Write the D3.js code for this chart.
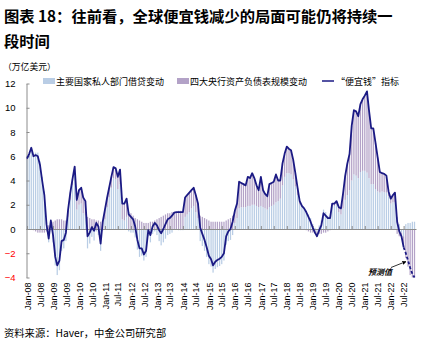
<!DOCTYPE html>
<html><head><meta charset="utf-8">
<script src="https://cdn.jsdelivr.net/npm/d3@7"></script>
<style>
html,body{margin:0;padding:0;background:#fff;}
svg{display:block;}
</style></head>
<body>
<svg id="c" width="432" height="345"></svg>
<script>
// ---------------- data (trillion USD, monthly Jan-08 .. Dec-22) ----------------
const startYear = 2008;
const privateCredit = [
 5.7,6.1,6.7,6.1,6.3,6.3,5.6,4.3,3.1,0.6,-1.1,0.2,
 -1.1,-3.0,-3.8,-3.4,-1.8,-1.6,-1.0,1.0,2.4,3.6,4.65,1.6,
 2.0,2.1,1.3,1.1,-1.6,-1.2,-0.65,-0.95,-0.2,-0.5,-1.8,-0.1,
 0.8,1.8,2.6,3.4,4.2,4.1,3.3,3.7,0.8,0.7,1.0,-0.2,
 -0.3,-0.3,-0.7,-1.7,-2.3,-2.2,-2.6,-2.3,-0.6,-1.1,-0.4,-0.2,
 -0.5,-1.0,-1.35,-1.1,-0.8,-0.5,-0.4,-0.3,-0.05,0.0,-0.1,-0.1,
 -0.1,1.0,1.2,1.4,1.7,1.9,1.4,0.9,-1.0,-1.4,-1.8,-2.3,
 -2.9,-3.1,-3.6,-3.3,-3.15,-3.05,-2.9,-2.6,-1.3,-1.0,-0.9,-0.5,
 0.5,0.9,1.7,1.8,1.8,1.8,1.9,1.9,2.0,2.0,1.9,1.8,
 1.9,1.8,1.7,1.6,1.8,1.9,2.0,2.2,2.3,2.5,3.6,4.3,
 4.6,4.6,4.5,4.1,3.5,2.8,2.0,1.8,1.7,1.5,1.2,0.9,
 0.4,0.1,-0.2,0.3,0.7,1.6,1.4,1.1,1.0,2.0,1.9,2.0,
 1.4,1.2,1.7,2.4,2.8,3.2,4.0,4.5,4.4,4.2,4.7,4.8,
 4.8,4.65,4.2,3.7,3.7,3.3,3.1,3.0,3.1,3.05,3.0,2.7,
 2.1,2.2,2.2,1.0,0.4,-0.3,-0.6,0.4,0.5,0.5,0.6,0.6
];
const centralBank = [
 0.1,0.1,0.0,-0.1,-0.2,-0.3,-0.3,-0.3,-0.3,-0.2,0.3,0.5,
 0.6,0.7,0.8,0.8,0.8,0.7,0.7,0.6,0.6,0.5,0.5,0.8,
 1.2,1.3,1.3,1.2,1.0,0.9,0.8,0.8,0.7,0.7,0.6,0.7,
 0.8,0.8,0.8,0.9,0.9,0.9,1.0,1.2,1.3,1.4,1.5,1.4,
 1.3,1.1,0.9,0.8,0.7,0.6,0.5,0.5,0.5,0.6,0.6,0.7,
 0.8,0.9,1.0,1.1,1.2,1.3,1.3,1.4,1.4,1.4,1.5,1.5,
 1.5,1.6,1.6,1.6,1.5,1.5,1.4,1.2,1.1,1.0,0.9,0.8,
 0.7,0.6,0.6,0.6,0.6,0.6,0.6,0.6,0.7,0.8,0.9,1.1,
 1.0,1.2,2.2,2.0,1.9,1.8,2.4,2.3,2.6,2.2,1.7,1.4,
 2.4,1.4,1.2,1.1,1.9,1.9,1.9,2.3,1.7,1.5,1.8,1.9,
 2.2,2.0,2.0,1.6,1.1,0.6,0.3,0.1,0.0,-0.1,-0.2,-0.3,
 -0.3,-0.4,-0.4,-0.4,-0.4,-0.3,-0.3,-0.2,-0.1,0.1,0.2,0.3,
 0.4,0.5,1.2,2.0,2.6,3.0,4.5,5.3,5.3,5.1,5.6,5.9,
 6.2,6.7,5.6,4.6,4.6,3.8,2.8,1.7,1.5,1.5,1.4,0.4,
 0.4,0.6,0.8,-0.4,-0.6,-0.3,-0.9,-2.4,-3.1,-3.8,-4.3,-4.6
];
const cheapMoney = [
 5.8,6.2,6.7,6.0,6.1,6.0,5.3,4.0,2.8,0.4,-0.8,0.7,
 -0.5,-2.3,-3.0,-2.6,-1.0,-0.9,-0.3,1.6,3.0,4.1,5.15,2.4,
 3.2,3.4,2.6,2.3,-0.6,-0.3,0.15,-0.15,0.5,0.2,-1.2,0.6,
 1.6,2.6,3.4,4.3,5.1,5.0,4.3,4.9,2.1,2.1,2.5,1.2,
 1.0,0.8,0.2,-0.9,-1.6,-1.6,-2.1,-1.8,-0.1,-0.5,0.2,0.5,
 0.3,-0.1,-0.35,0.0,0.4,0.8,0.9,1.1,1.35,1.4,1.4,1.4,
 1.4,2.6,2.8,3.0,3.2,3.4,2.8,2.1,0.1,-0.4,-0.9,-1.5,
 -2.2,-2.5,-3.0,-2.7,-2.55,-2.45,-2.3,-2.0,-0.6,-0.2,0.0,0.6,
 1.5,2.1,3.9,3.8,3.7,3.6,4.3,4.2,4.6,4.2,3.6,3.2,
 4.3,3.2,2.9,2.7,3.7,3.8,3.9,4.5,4.0,4.0,5.4,6.2,
 6.8,6.6,6.5,5.7,4.6,3.4,2.3,1.9,1.7,1.4,1.0,0.6,
 0.1,-0.3,-0.6,-0.1,0.3,1.3,1.1,0.9,0.9,2.1,2.1,2.3,
 1.8,1.7,2.9,4.4,5.4,6.2,8.5,9.8,9.7,9.3,10.3,10.7,
 11.0,11.35,9.8,8.3,8.3,7.1,5.9,4.7,4.6,4.55,4.4,3.1,
 2.5,2.8,3.0,0.6,-0.2,-0.6,-1.5,-2.0,-2.6,-3.2,-3.7,-4.0
];
const forecastStart = 174; // Jul-22 onward is forecast (dashed)
const tickLabels = ["Jan-08","Jul-08","Jan-09","Jul-09","Jan-10","Jul-10","Jan-11","Jul-11",
 "Jan-12","Jul-12","Jan-13","Jul-13","Jan-14","Jul-14","Jan-15","Jul-15","Jan-16","Jul-16",
 "Jan-17","Jul-17","Jan-18","Jul-18","Jan-19","Jul-19","Jan-20","Jul-20","Jan-21","Jul-21",
 "Jan-22","Jul-22"];
const yTicks = [-4,-2,0,2,4,6,8,10,12];
const seriesNames = ["主要国家私人部门借贷变动","四大央行资产负债表规模变动","“便宜钱”指标"];
const colors = {priv:"#b9cde5", cb:"#b3a2c7", line:"#1b1a84"};

// ---------------- build ----------------
const months = privateCredit.map((_, i) => new Date(startYear, i, 1));
const rows = months.map((d, i) => ({date: d, priv: privateCredit[i], cb: centralBank[i], line: cheapMoney[i], i}));

const svg = d3.select("#c");
const CJK = "'Noto Sans CJK SC','Liberation Sans',Arial,sans-serif";
const LAT = "'Liberation Sans',Arial,'Noto Sans CJK SC',sans-serif";

// title
const title = svg.append("text").attr("font-family", CJK).attr("font-weight", 700)
  .attr("font-size", 15.3).attr("fill", "#000");
title.append("tspan").attr("x", 4).attr("y", 22).text("图表 18：往前看，全球便宜钱减少的局面可能仍将持续一");
title.append("tspan").attr("x", 4).attr("y", 47).text("段时间");

// unit
svg.append("text").attr("x", 3).attr("y", 70).attr("font-family", CJK).attr("font-size", 8.8)
  .attr("fill", "#000").text("（万亿美元）");

const x = d3.scaleTime()
  .domain([months[0], months[months.length - 1]])
  .range([27, 414.5]);
const y = d3.scaleLinear().domain([-4, 12]).range([277.5, 83.5]);

// clip
svg.append("clipPath").attr("id", "plotclip").append("rect")
  .attr("x", 20).attr("y", y(12) - 2).attr("width", 405).attr("height", y(-4) - y(12) + 2);

// stacked bars
const stack = d3.stack().keys(["priv", "cb"]).offset(d3.stackOffsetDiverging);
const stacked = stack(rows);
const barW = 1.25;
const gBars = svg.append("g").attr("clip-path", "url(#plotclip)");
gBars.selectAll("g.s").data(stacked).join("g").attr("class", "s")
  .attr("fill", d => d.key === "priv" ? colors.priv : colors.cb)
  .selectAll("rect").data(d => d).join("rect")
  .attr("x", d => x(d.data.date) - barW / 2)
  .attr("width", barW)
  .attr("y", d => y(Math.max(d[0], d[1])))
  .attr("height", d => Math.abs(y(d[0]) - y(d[1])));

// zero axis with inward ticks
const janJul = months.filter(d => d.getMonth() === 0 || d.getMonth() === 6);
svg.append("g").attr("transform", `translate(0,${y(0)})`)
  .call(d3.axisBottom(x).tickValues(janJul).tickSize(-3).tickSizeOuter(0).tickFormat(""))
  .call(g => g.select(".domain").attr("stroke", "#8c8c8c").attr("d", `M26.5,0.5H416.5`))
  .call(g => g.selectAll(".tick line").attr("stroke", "#8c8c8c"));

// bottom labels
const gx = svg.append("g").attr("transform", `translate(0,${y(-4)})`)
  .call(d3.axisBottom(x).tickValues(janJul).tickSize(0).tickFormat((d, i) => tickLabels[i]));
gx.select(".domain").remove();
gx.selectAll("text").attr("font-family", LAT).attr("font-size", 9).attr("fill", "#000")
  .attr("text-anchor", "end").attr("dy", "0.35em")
  .attr("transform", "translate(0,5) rotate(-90)").attr("x", 0).attr("y", 0);

// y axis
const gy = svg.append("g").attr("transform", "translate(26.5,0)")
  .call(d3.axisLeft(y).tickValues(yTicks).tickSize(-3).tickSizeOuter(0).tickPadding(11).tickFormat(d3.format("d")));
gy.select(".domain").attr("stroke", "#8c8c8c");
gy.selectAll(".tick line").attr("stroke", "#8c8c8c");
gy.selectAll("text").attr("font-family", LAT).attr("font-size", 9.5)
  .attr("fill", d => d < 0 ? "#ff0000" : "#000");

// line
const lineGen = d3.line().x(d => x(d.date)).y(d => y(d.line));
svg.append("path").datum(rows.filter(d => d.i <= forecastStart))
  .attr("fill", "none").attr("stroke", colors.line).attr("stroke-width", 1.8)
  .attr("stroke-linejoin", "round").attr("d", lineGen);
svg.append("path").datum(rows.filter(d => d.i >= forecastStart))
  .attr("fill", "none").attr("stroke", colors.line).attr("stroke-width", 1.8)
  .attr("stroke-dasharray", "3,2").attr("d", lineGen);

// forecast annotation
const fp = rows[176];
svg.append("defs").append("marker").attr("id", "arr").attr("viewBox", "0 0 10 10")
  .attr("refX", 9).attr("refY", 5).attr("markerWidth", 5).attr("markerHeight", 5)
  .attr("orient", "auto").append("path").attr("d", "M0,0L10,5L0,10z").attr("fill", "#000");
svg.append("line").attr("x1", 391).attr("y1", 267.5).attr("x2", x(fp.date) - 2).attr("y2", y(fp.line) + 1)
  .attr("stroke", "#000").attr("stroke-width", 0.8).attr("marker-end", "url(#arr)");
svg.append("text").attr("x", 368).attr("y", 275).attr("font-family", CJK).attr("font-size", 8)
  .attr("font-style", "italic").attr("font-weight", 700).attr("fill", "#000").text("预测值");

// legend
const lg = svg.append("g").attr("font-family", CJK).attr("font-size", 9).attr("fill", "#000");
lg.append("rect").attr("x", 43).attr("y", 78).attr("width", 12).attr("height", 6).attr("fill", colors.priv);
lg.append("text").attr("x", 56).attr("y", 84.5).text(seriesNames[0]);
lg.append("rect").attr("x", 177).attr("y", 78).attr("width", 12).attr("height", 6).attr("fill", colors.cb);
lg.append("text").attr("x", 190).attr("y", 84.5).text(seriesNames[1]);
lg.append("line").attr("x1", 322).attr("x2", 334).attr("y1", 81).attr("y2", 81)
  .attr("stroke", colors.line).attr("stroke-width", 1.5);
lg.append("text").attr("x", 336).attr("y", 84.5).text(seriesNames[2]);

// source
svg.append("text").attr("x", 4).attr("y", 337).attr("font-family", CJK).attr("font-size", 10.3)
  .attr("fill", "#000").text("资料来源：Haver，中金公司研究部");
</script>
</body></html>
